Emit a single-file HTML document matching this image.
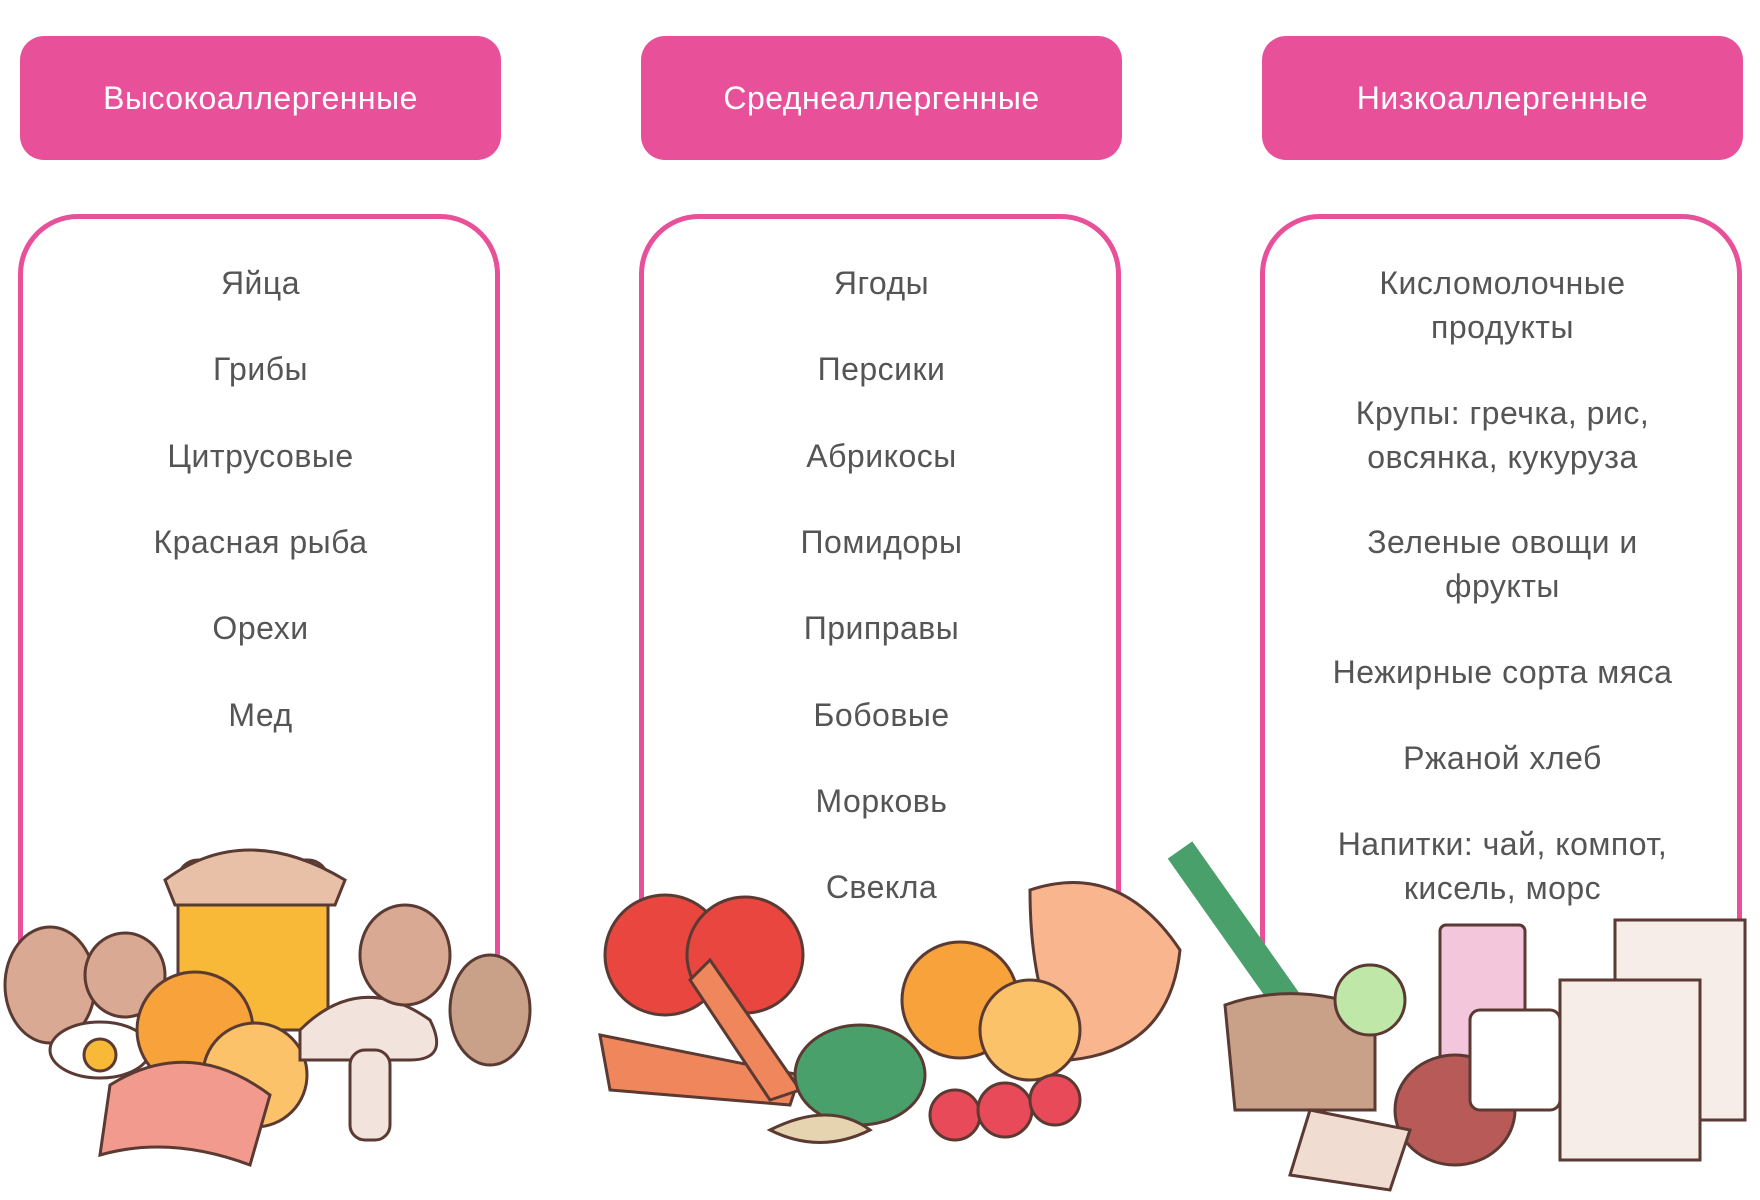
<!DOCTYPE html>
<html><head><meta charset="utf-8"><style>
body{margin:0;width:1760px;height:1200px;background:#fff;position:relative;overflow:hidden;font-family:"Liberation Sans","DejaVu Sans",sans-serif}
.h{position:absolute;top:36px;width:481px;height:124px;background:#e8509a;border-radius:24px;color:#fff;font-size:32px;display:flex;align-items:center;justify-content:center;letter-spacing:.5px}
.b{position:absolute;top:214px;width:472px;height:760px;border:5px solid #e8509a;border-bottom:none;border-radius:60px 60px 0 0}
.t{position:absolute;width:481px;text-align:center;color:#555;font-size:32px;line-height:44px;letter-spacing:.5px}
svg{position:absolute;left:0;top:0}
</style></head><body>
<div class="h" style="left:20px">Высокоаллергенные</div>
<div class="h" style="left:641px">Среднеаллергенные</div>
<div class="h" style="left:1262px">Низкоаллергенные</div>
<div class="b" style="left:18px"></div>
<div class="b" style="left:639px"></div>
<div class="b" style="left:1260px"></div>
<div class="t" style="left:20px;top:261px">Яйца</div>
<div class="t" style="left:20px;top:347px">Грибы</div>
<div class="t" style="left:20px;top:434px">Цитрусовые</div>
<div class="t" style="left:20px;top:520px">Красная рыба</div>
<div class="t" style="left:20px;top:606px">Орехи</div>
<div class="t" style="left:20px;top:693px">Мед</div>
<div class="t" style="left:641px;top:261px">Ягоды</div>
<div class="t" style="left:641px;top:347px">Персики</div>
<div class="t" style="left:641px;top:434px">Абрикосы</div>
<div class="t" style="left:641px;top:520px">Помидоры</div>
<div class="t" style="left:641px;top:606px">Приправы</div>
<div class="t" style="left:641px;top:693px">Бобовые</div>
<div class="t" style="left:641px;top:779px">Морковь</div>
<div class="t" style="left:641px;top:865px">Свекла</div>
<div class="t" style="left:1262px;top:261px">Кисломолочные<br>продукты</div>
<div class="t" style="left:1262px;top:391px">Крупы: гречка, рис,<br>овсянка, кукуруза</div>
<div class="t" style="left:1262px;top:520px">Зеленые овощи и<br>фрукты</div>
<div class="t" style="left:1262px;top:650px">Нежирные сорта мяса</div>
<div class="t" style="left:1262px;top:736px">Ржаной хлеб</div>
<div class="t" style="left:1262px;top:822px">Напитки: чай, компот,<br>кисель, морс</div>
<svg width="1760" height="1200" stroke="#5a3a32" stroke-width="3">
<!-- left -->
<rect x="178" y="860" width="150" height="170" rx="20" fill="#f8b938"/>
<path d="M165 880 q80-60 180 0 l-10 25 h-160z" fill="#e8c0a8"/>
<ellipse cx="50" cy="985" rx="45" ry="58" fill="#d9a993"/>
<ellipse cx="125" cy="975" rx="40" ry="42" fill="#d9a993"/>
<ellipse cx="100" cy="1050" rx="50" ry="28" fill="#fff"/>
<circle cx="100" cy="1055" r="16" fill="#f8b938"/>
<circle cx="195" cy="1030" r="58" fill="#f7a23a"/>
<circle cx="255" cy="1075" r="52" fill="#fbc26a"/>
<path d="M110 1085 q80-50 160 10 l-20 70 q-80-30-150-10z" fill="#f29a8e"/>
<path d="M300 1030 q60-60 130-10 q20 40-20 40 h-110z" fill="#f2e4dc"/>
<rect x="350" y="1050" width="40" height="90" rx="15" fill="#f2e4dc"/>
<ellipse cx="405" cy="955" rx="45" ry="50" fill="#d9a993"/>
<ellipse cx="490" cy="1010" rx="40" ry="55" fill="#c9a088"/>
<!-- middle -->
<circle cx="665" cy="955" r="60" fill="#e8463e"/>
<circle cx="745" cy="955" r="58" fill="#e8463e"/>
<path d="M600 1035 l200 40 l-10 30 l-180-15z" fill="#f0875c"/>
<path d="M710 960 l90 130 l-30 10 l-80-120z" fill="#f0875c"/>
<circle cx="960" cy="1000" r="58" fill="#f7a23a"/>
<path d="M1030 890 q90-30 150 60 q-10 100-110 110 q-40-60-40-170z" fill="#f9b58e"/>
<circle cx="1030" cy="1030" r="50" fill="#fbc26a"/>
<ellipse cx="860" cy="1075" rx="65" ry="50" fill="#4aa06a"/>
<circle cx="955" cy="1115" r="25" fill="#e84a5a"/>
<circle cx="1005" cy="1110" r="27" fill="#e84a5a"/>
<circle cx="1055" cy="1100" r="25" fill="#e84a5a"/>
<path d="M770 1130 q60-30 100 0 q-50 25-100 0z" fill="#e6d3b0"/>
<!-- right -->
<path d="M1180 850 l120 170" stroke="#4aa06a" stroke-width="30"/>
<rect x="1440" y="925" width="85" height="160" rx="6" fill="#f3c6dc"/>
<rect x="1615" y="920" width="130" height="200" fill="#f6ece8"/>
<rect x="1560" y="980" width="140" height="180" fill="#f6ece8"/>
<path d="M1225 1005 q70-25 150 5 v100 h-140 z" fill="#c9a088"/>
<circle cx="1370" cy="1000" r="35" fill="#bfe8a8"/>
<ellipse cx="1455" cy="1110" rx="60" ry="55" fill="#b85a58"/>
<path d="M1310 1110 l100 20 l-20 60 l-100-15z" fill="#f0dcd0"/>
<rect x="1470" y="1010" width="90" height="100" rx="10" fill="#fff"/>
</svg>
</body></html>
